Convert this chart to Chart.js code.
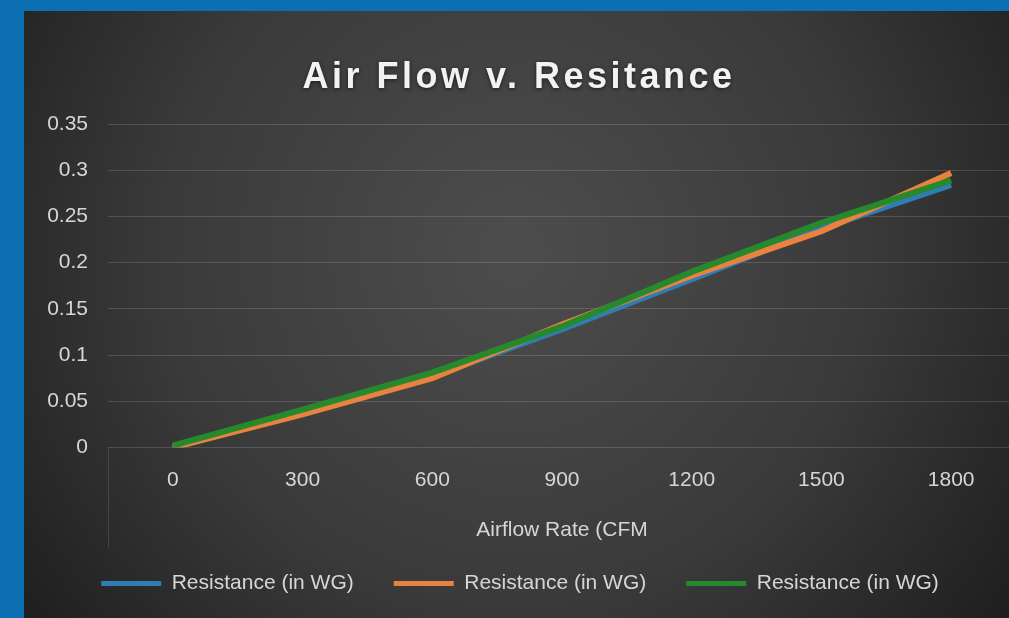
<!DOCTYPE html>
<html>
<head>
<meta charset="utf-8">
<script src="https://cdn.jsdelivr.net/npm/chart.js@4.4.1/dist/chart.umd.min.js"></script>
<style>
  html, body { margin: 0; padding: 0; overflow: hidden; background: #0b6fb1; }
  #wrap { position: absolute; left: 24px; top: 11px; width: 1000px; height: 607px; }
</style>
</head>
<body>
<div id="wrap"><canvas id="chart"></canvas></div>
<script>
const airflow = ["0", "300", "600", "900", "1200", "1500", "1800"];
const resistanceBlue = [0, 0.037, 0.077, 0.128, 0.182, 0.237, 0.284];
const resistanceOrange = [0, 0.036, 0.075, 0.133, 0.186, 0.234, 0.297];
const resistanceGreen = [0.002, 0.041, 0.081, 0.131, 0.19, 0.243, 0.289];
const seriesName = "Resistance (in WG)";
const chartTitle = "Air Flow v. Resitance";
const xTitle = "Airflow Rate (CFM";

const FONT = '"Liberation Sans", Arial, sans-serif';
const textColor = "#d6d6d6";

// dark radial background plus the big spaced-out title
const backdrop = {
  id: "backdrop",
  beforeDraw(chart) {
    const ctx = chart.ctx;
    ctx.save();
    const g = ctx.createRadialGradient(490, 240, 20, 490, 240, 620);
    g.addColorStop(0, "#4c4c4c");
    g.addColorStop(0.55, "#3a3a3a");
    g.addColorStop(1, "#1e1e1e");
    ctx.fillStyle = g;
    ctx.fillRect(0, 0, chart.width, chart.height);
    ctx.restore();
  },
  afterDraw(chart) {
    const ctx = chart.ctx;
    ctx.save();
    ctx.font = 'bold 36px "Liberation Sans", Arial, sans-serif';
    ctx.letterSpacing = "3.5px";
    ctx.fillStyle = "#f2f2f2";
    ctx.textAlign = "center";
    ctx.textBaseline = "alphabetic";
    ctx.shadowColor = "rgba(0,0,0,0.6)";
    ctx.shadowBlur = 4;
    ctx.shadowOffsetY = 1;
    ctx.fillText(chartTitle, 495, 77);
    // faint axis edge line below the plot, like the office chart
    const a = chart.chartArea;
    ctx.shadowColor = "transparent";
    ctx.strokeStyle = "rgba(255,255,255,0.12)";
    ctx.lineWidth = 1;
    ctx.beginPath();
    ctx.moveTo(a.left + 0.5, a.bottom);
    ctx.lineTo(a.left + 0.5, a.bottom + 100);
    ctx.stroke();
    ctx.restore();
  }
};

const mkSet = (data, color, order) => ({
  label: seriesName,
  data: data,
  borderColor: color,
  backgroundColor: color,
  borderWidth: 6,
  pointRadius: 0,
  tension: 0,
  order: order
});

new Chart(document.getElementById("chart"), {
  type: "line",
  data: {
    labels: airflow,
    datasets: [
      mkSet(resistanceBlue, "#2f7db4", 3),
      mkSet(resistanceOrange, "#e8823e", 2),
      mkSet(resistanceGreen, "#268a2c", 1)
    ]
  },
  options: {
    responsive: true,
    maintainAspectRatio: false,
    animation: false,
    layout: { padding: { top: 113, right: 8, bottom: 25, left: 0 } },
    plugins: {
      title: { display: false },
      tooltip: { enabled: false },
      legend: {
        position: "bottom",
        maxHeight: 60,
        labels: {
          color: textColor,
          font: { family: FONT, size: 21 },
          boxWidth: 60,
          boxHeight: 5,
          padding: 40,
          sort: (a, b) => a.datasetIndex - b.datasetIndex,
          generateLabels: (chart) =>
            Chart.defaults.plugins.legend.labels.generateLabels(chart).map(l => ({
              ...l, lineWidth: 0, fillStyle: l.strokeStyle
            }))
        }
      }
    },
    scales: {
      x: {
        offset: true,
        grid: { display: false, drawTicks: false },
        border: { display: false },
        ticks: { color: textColor, font: { family: FONT, size: 21 }, padding: 20 },
        title: {
          display: true,
          text: xTitle,
          color: textColor,
          font: { family: FONT, size: 21 },
          padding: { top: 0, bottom: -10 }
        },
        afterFit: (s) => { s.height = 85.5; }
      },
      y: {
        min: 0,
        max: 0.35,
        grid: { color: "rgba(255,255,255,0.14)", drawTicks: false, lineWidth: 1 },
        border: { display: false },
        ticks: {
          stepSize: 0.05,
          color: textColor,
          font: { family: FONT, size: 21 },
          padding: 20,
          callback: (v) => String(Math.round(v * 100) / 100)
        },
        afterFit: (s) => { s.width = 84; }
      }
    }
  },
  plugins: [backdrop]
});
</script>
</body>
</html>
